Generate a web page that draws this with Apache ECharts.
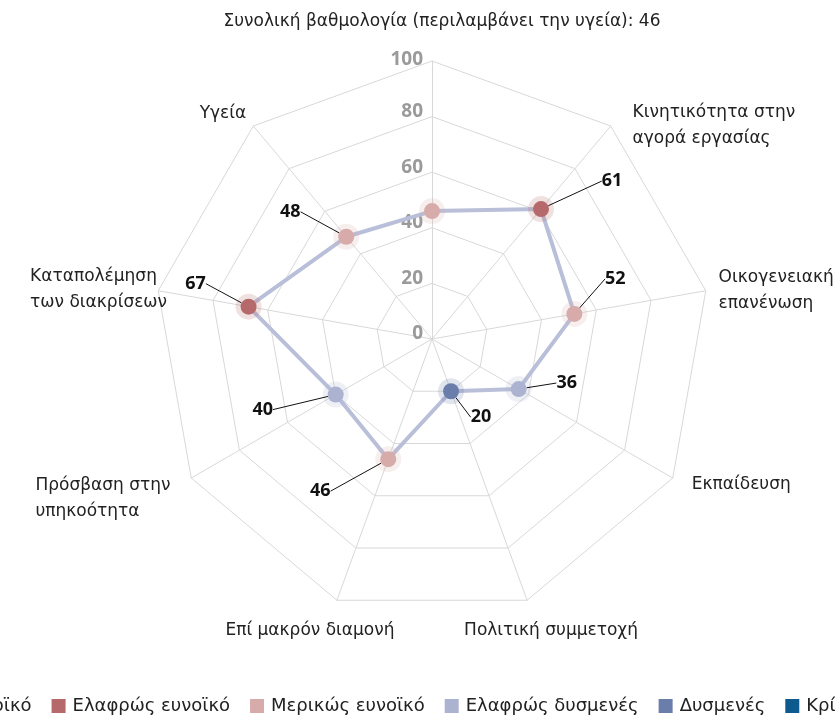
<!DOCTYPE html>
<html>
<head>
<meta charset="utf-8">
<script src="https://cdn.jsdelivr.net/npm/echarts@6/dist/echarts.min.js"></script>
<style>
  html, body { margin: 0; padding: 0; background: #fff; }
  #chart { width: 835px; height: 715px; }
</style>
</head>
<body>
<div id="chart"></div>
<script>
  // axes in clockwise order, starting at the top
  const axisNames = [
    'Συνολική βαθμολογία (περιλαμβάνει την υγεία): 46',
    'Κινητικότητα στην\nαγορά εργασίας',
    'Οικογενειακή\nεπανένωση',
    'Εκπαίδευση',
    'Πολιτική συμμετοχή',
    'Επί μακρόν διαμονή',
    'Πρόσβαση στην\nυπηκοότητα',
    'Καταπολέμηση\nτων διακρίσεων',
    'Υγεία'
  ]
  const scores = [46, 61, 52, 36, 20, 46, 40, 67, 48]
  const showValue = [false, true, true, true, true, true, true, true, true]

  const levelNames = ['Ευνοϊκό', 'Ελαφρώς ευνοϊκό', 'Μερικώς ευνοϊκό', 'Ελαφρώς δυσμενές', 'Δυσμενές', 'Κρίσιμα δυσμενές']
  const levelMin = [80, 60, 41, 21, 1, 0]
  const levelColors = ['#9c3a3c', '#b5696b', '#d6abaa', '#abb3d1', '#6a7dab', '#0d5a8f']

  // where each value label sits relative to its dot
  const labelShift = [[0, 0], [71, -28], [41, -35], [48, -6], [30, 26], [-68, 32], [-73, 15], [-53, -23], [-56, -25]]
  // name placement: gap, align, verticalAlign, padding
  const nameLayout = [
    [39, 'center', 'middle', [0, 0, 0, 20]],
    [34, 'left', 'top', 0],
    [13, 'left', 'middle', [5, 0, 0, 0]],
    [22, 'left', 'middle', [0, 0, 8, 0]],
    [32, 'center', 'middle', [0, 0, 0, 26]],
    [32, 'center', 'middle', [0, 32, 0, 0]],
    [24, 'right', 'middle', [17, 0, 0, 0]],
    [-9, 'right', 'middle', [0, 0, 6, 0]],
    [11, 'right', 'middle', [0, 0, 8, 0]]
  ]

  const textFont = '"DejaVu Sans", "Noto Sans", sans-serif'
  const numFont = '"Noto Sans", "DejaVu Sans", sans-serif'
  const cx = 432, cy = 339, R = 278

  function levelOf(v) {
    for (let i = 0; i < levelMin.length; i++) {
      if (v >= levelMin[i]) return i
    }
    return levelMin.length - 1
  }

  // radar goes counter-clockwise, so walk the list backwards after the top axis
  let radarOrder = [0]
  for (let i = axisNames.length - 1; i > 0; i--) radarOrder.push(i)

  let indicators = radarOrder.map((k, j) => {
    let lay = nameLayout[k]
    let ind = {
      name: axisNames[k],
      min: 0,
      max: 100,
      nameGap: lay[0],
      nameTextStyle: {
        align: lay[1],
        verticalAlign: lay[2],
        padding: lay[3]
      }
    }
    if (j === 0) {
      ind.axisLabel = { show: true }
    }
    return ind
  })

  const step = 360 / axisNames.length
  let linePoints = scores.map((v, i) => [v, i * step])
  linePoints.push([scores[0], 360])

  let dotData = scores.map((v, i) => ({
    value: [v, i * step],
    itemStyle: { color: levelColors[levelOf(v)] },
    label: { show: showValue[i] }
  }))
  let haloData = scores.map((v, i) => ({
    value: [v, i * step],
    itemStyle: { color: levelColors[levelOf(v)] }
  }))

  let legendSeries = levelNames.map((n, i) => ({
    name: n,
    type: 'scatter',
    coordinateSystem: 'polar',
    data: [],
    itemStyle: { color: levelColors[i], opacity: 1 }
  }))

  let myCharts = echarts.init(document.getElementById('chart'))
  myCharts.setOption({
    animation: false,
    textStyle: { fontFamily: textFont },
    radar: {
      center: [cx, cy],
      radius: R,
      startAngle: 90,
      splitNumber: 5,
      shape: 'polygon',
      indicator: indicators,
      axisName: {
        color: '#222',
        fontSize: 17,
        fontFamily: textFont,
        formatter: function (name) {
          return name.split('\n').map(l => '{n|' + l + '}').join('\n')
        },
        rich: {
          n: { align: 'left', fontSize: 17, lineHeight: 26, color: '#222', fontFamily: textFont }
        }
      },
      axisLine: { lineStyle: { color: '#d8d8d8', width: 1 } },
      splitLine: { lineStyle: { color: '#d8d8d8', width: 1 } },
      splitArea: { show: false },
      axisTick: { show: false },
      axisLabel: {
        show: false,
        color: '#9a9a9a',
        fontSize: 19,
        fontWeight: 'bold',
        fontFamily: numFont,
        margin: 9,
        verticalAlign: 'bottom',
        lineHeight: 10,
        formatter: function (v) {
          return v === 100 ? '{top|' + v + '}' : String(v)
        },
        rich: {
          top: { color: '#9a9a9a', fontSize: 19, fontWeight: 'bold', fontFamily: numFont, lineHeight: 2 }
        }
      }
    },
    polar: {
      center: [cx, cy],
      radius: R
    },
    angleAxis: {
      type: 'value',
      min: 0,
      max: 360,
      startAngle: 90,
      clockwise: true,
      show: false,
      splitLine: { show: false }
    },
    radiusAxis: {
      min: 0,
      max: 100,
      show: false,
      splitLine: { show: false }
    },
    legend: {
      data: levelNames,
      top: 692,
      left: -65,
      width: 2000,
      icon: 'rect',
      itemWidth: 14,
      itemHeight: 14,
      itemGap: 20,
      textStyle: { fontSize: 18, color: '#222', fontFamily: textFont, padding: [0, 0, 0, 2] }
    },
    series: [
      {
        name: 'line',
        type: 'line',
        coordinateSystem: 'polar',
        data: linePoints,
        symbol: 'none',
        lineStyle: { color: '#b9bfd9', width: 4 },
        z: 2
      },
      {
        name: 'halo',
        type: 'scatter',
        coordinateSystem: 'polar',
        data: haloData,
        symbolSize: 26,
        itemStyle: { opacity: 0.2 },
        z: 3
      },
      {
        name: 'dots',
        type: 'scatter',
        coordinateSystem: 'polar',
        data: dotData,
        symbolSize: 16,
        itemStyle: { opacity: 1 },
        label: {
          show: true,
          position: 'inside',
          color: '#111',
          fontSize: 18,
          fontWeight: 'bold',
          fontFamily: numFont,
          formatter: function (p) { return p.value[0] }
        },
        labelLayout: function (p) {
          let s = labelShift[p.dataIndex]
          return { dx: s[0], dy: s[1] }
        },
        labelLine: {
          show: true,
          lineStyle: { color: '#111', width: 1 }
        },
        z: 4
      }
    ].concat(legendSeries)
  })
</script>
</body>
</html>
